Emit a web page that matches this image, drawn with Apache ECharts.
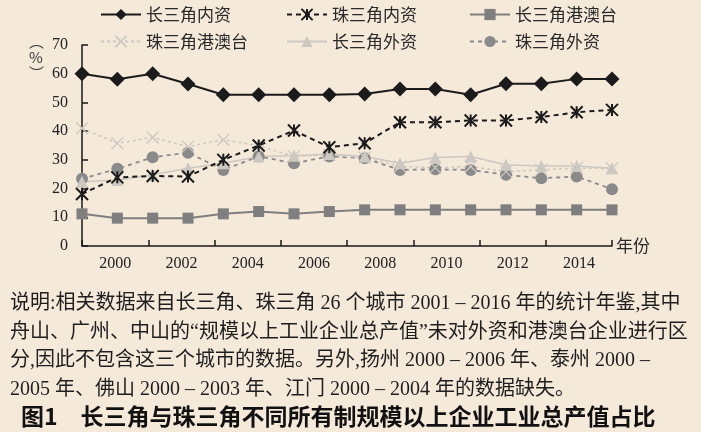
<!DOCTYPE html>
<html>
<head>
<meta charset="utf-8">
<script src="https://cdn.jsdelivr.net/npm/echarts@6/dist/echarts.min.js"></script>
<style>
html,body{margin:0;padding:0;background:#f5e9da;}
#c{width:701px;height:432px;}
</style>
</head>
<body>
<div id="c"></div>
<script>
// ---- data ----
const years = ['2000','2001','2002','2003','2004','2005','2006','2007','2008','2009','2010','2011','2012','2013','2014','2015'];
const tickLabels = ['2000','2002','2004','2006','2008','2010','2012','2014'];
const yrdDomestic = [60, 58.1, 60, 56.4, 52.7, 52.7, 52.7, 52.7, 52.9, 54.7, 54.7, 52.7, 56.5, 56.5, 58.2, 58.2];
const prdDomestic = [18.1, 23.9, 24.4, 24.2, 30.0, 35.0, 40.2, 34.4, 35.8, 43.1, 43.1, 43.7, 43.7, 44.9, 46.6, 47.4];
const yrdHMT = [11.2, 9.7, 9.7, 9.7, 11.2, 12.0, 11.2, 12.0, 12.6, 12.6, 12.6, 12.6, 12.6, 12.6, 12.6, 12.6];
const prdHMT = [41.0, 35.8, 37.8, 34.6, 37.0, 34.9, 31.2, 31.8, 30.8, 27.7, 27.3, 27.7, 25.9, 26.5, 27.1, 27.0];
const yrdForeign = [22.4, 23.0, 24.8, 27.1, 28.8, 31.2, 31.4, 32.0, 31.2, 28.8, 30.8, 31.2, 28.3, 27.9, 27.9, 27.1];
const prdForeign = [23.4, 26.9, 30.9, 32.5, 26.5, 31.2, 28.8, 31.2, 30.6, 26.5, 26.7, 26.5, 24.8, 23.6, 24.2, 19.8];
const names = ['长三角内资','珠三角内资','长三角港澳台','珠三角港澳台','长三角外资','珠三角外资'];
const noteLines = [
  '说明:相关数据来自长三角、珠三角 26 个城市 2001 – 2016 年的统计年鉴,其中',
  '舟山、广州、中山的“规模以上工业企业总产值”未对外资和港澳台企业进行区',
  '分,因此不包含这三个城市的数据。另外,扬州 2000 – 2006 年、泰州 2000 –',
  '2005 年、佛山 2000 – 2003 年、江门 2000 – 2004 年的数据缺失。'
];
const titleText = '图1　长三角与珠三角不同所有制规模以上企业工业总产值占比';

// ---- chart ----
const serif = '"Liberation Serif", "Noto Sans CJK SC", serif';
const cjk = '"Noto Sans CJK SC", sans-serif';
const starPath = 'path://M0,0L10,10M10,0L0,10M5,0L5,10';
const xPath = 'path://M0,0L10,10M10,0L0,10';

const chart = echarts.init(document.getElementById('c'), null, {renderer:'canvas'});

const legendText = {fontFamily: cjk, fontSize: 17, color: '#2a2a2a', lineHeight: 17};
function legendCol(left, data){
  return {orient:'vertical', left:left, top:6, padding:0, itemGap:10, itemWidth:40, itemHeight:14,
          textStyle: legendText, data:data, selectedMode:false};
}

const notesGraphics = noteLines.map((t,i)=>({
  type:'text', x:10, y:304 + i*28.5,
  style:{text:t, font:'20px ' + serif, fill:'#1e1e1e', verticalAlign:'middle', align:'left'}
}));

chart.setOption({
  backgroundColor:'#f5e9da',
  animation:false,
  grid:{left:82, right:89, top:45, bottom:186, containLabel:false},
  legend:[
    legendCol(100, [names[0], names[3]]),
    legendCol(286, [names[1], names[4]]),
    legendCol(469, [names[2], names[5]])
  ],
  xAxis:[
    {type:'category', data:years, boundaryGap:false, show:false},
    {type:'category', data:tickLabels, boundaryGap:true, position:'bottom',
     axisLine:{show:true, lineStyle:{color:'#1a1a1a', width:1.5}},
     axisTick:{show:true, inside:true, length:6, lineStyle:{color:'#1a1a1a', width:1.5}},
     axisLabel:{fontFamily:serif, fontSize:16, color:'#222', margin:10},
     name:'年份', nameLocation:'end', nameGap:4,
     nameTextStyle:{fontFamily:cjk, fontSize:17, color:'#2a2a2a'}}
  ],
  yAxis:{type:'value', min:0, max:70, interval:10,
    axisLine:{show:true, lineStyle:{color:'#1a1a1a', width:1.5}},
    axisTick:{show:true, inside:true, length:6, lineStyle:{color:'#1a1a1a', width:1.5}},
    axisLabel:{fontFamily:serif, fontSize:16, color:'#222', margin:14},
    splitLine:{show:false}},
  graphic:[
    {type:'text', x:29, y:33, style:{text:'︵\n%\n︶', font:'15px ' + cjk, lineHeight:16, fill:'#333', align:'left'}},
    ...notesGraphics,
    {type:'text', x:21, y:416, style:{text:titleText, font:'bold 23px ' + cjk, fill:'#111', verticalAlign:'middle', align:'left'}}
  ],
  series:[
    {name:names[5], type:'line', xAxisIndex:0, data:prdForeign, symbol:'circle', symbolSize:12,
     itemStyle:{color:'#8a8a8a'}, lineStyle:{color:'#8a8a8a', width:1.8, type:[4,4]}},
    {name:names[4], type:'line', xAxisIndex:0, data:yrdForeign, symbol:'triangle', symbolSize:12,
     itemStyle:{color:'#cdc8c1'}, lineStyle:{color:'#cdc8c1', width:1.5}},
    {name:names[3], type:'line', xAxisIndex:0, data:prdHMT, symbol:xPath, symbolSize:12,
     itemStyle:{color:'#cdc8c1', borderColor:'#cdc8c1', borderWidth:1.3}, lineStyle:{color:'#cdc8c1', width:1.5, type:[3,3]}},
    {name:names[2], type:'line', xAxisIndex:0, data:yrdHMT, symbol:'rect', symbolSize:11,
     itemStyle:{color:'#7f7f7f'}, lineStyle:{color:'#7f7f7f', width:2}},
    {name:names[1], type:'line', xAxisIndex:0, data:prdDomestic, symbol:starPath, symbolSize:12,
     itemStyle:{color:'#1b1b1b', borderColor:'#1b1b1b', borderWidth:2}, lineStyle:{color:'#1b1b1b', width:2, type:[5,4]}},
    {name:names[0], type:'line', xAxisIndex:0, data:yrdDomestic, symbol:'diamond', symbolSize:15,
     itemStyle:{color:'#1b1b1b'}, lineStyle:{color:'#1b1b1b', width:2}}
  ]
});
</script>
</body>
</html>
